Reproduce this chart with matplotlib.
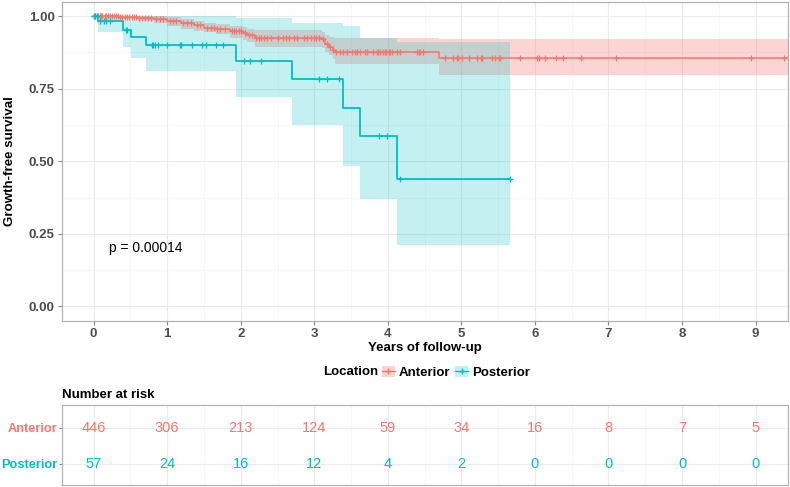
import numpy as np
import matplotlib.pyplot as plt
from matplotlib.patches import Patch
from matplotlib.lines import Line2D

plt.rcParams['font.family'] = ['Liberation Sans', 'DejaVu Sans']

RED = '#F8766D'
TEAL = '#00BFC4'
GRID = '#EBEBEB'
BORDER = '#B3B3B3'
TICKTXT = '#4D4D4D'

# Anterior: step times, survival and confidence band
ant_time = [0, 0.35, 0.60, 0.82, 1.00, 1.19, 1.37, 1.50, 1.66, 1.85, 2.03, 2.08,
            2.19, 3.10, 3.14, 3.20, 3.25, 3.28, 4.70, 9.50]
ant_surv = [1.0, 0.998, 0.995, 0.991, 0.984, 0.976, 0.969, 0.961, 0.956, 0.950,
            0.943, 0.934, 0.924, 0.920, 0.905, 0.895, 0.885, 0.876, 0.856, 0.856]
ant_upper = [1.0, 1.0, 1.0, 1.0, 0.997, 0.990, 0.985, 0.978, 0.972, 0.968, 0.963,
             0.957, 0.951, 0.946, 0.935, 0.930, 0.927, 0.926, 0.920, 0.920]
ant_lower = [1.0, 0.990, 0.985, 0.978, 0.968, 0.957, 0.950, 0.945, 0.940, 0.925,
             0.918, 0.910, 0.894, 0.890, 0.876, 0.865, 0.852, 0.834, 0.796, 0.796]
ant_censor = [0.0, 0.02, 0.04, 0.06, 0.08, 0.10, 0.12, 0.15, 0.17, 0.20, 0.22,
              0.25, 0.28, 0.30, 0.33, 0.36, 0.39, 0.42, 0.45, 0.48, 0.52, 0.55,
              0.58, 0.62, 0.66, 0.70, 0.74, 0.78, 0.85, 0.90, 0.95, 1.04, 1.08,
              1.12, 1.22, 1.27, 1.32, 1.41, 1.45, 1.54, 1.59, 1.63, 1.68, 1.72,
              1.79, 1.88, 1.91, 1.94, 1.97, 2.00, 2.06, 2.11, 2.15, 2.21, 2.25,
              2.28, 2.32, 2.36, 2.41, 2.50, 2.57, 2.62, 2.66, 2.73, 2.77, 2.86,
              2.90, 2.95, 2.99, 3.03, 3.06, 3.12, 3.17, 3.22, 3.26, 3.30, 3.35,
              3.39, 3.44, 3.51, 3.55, 3.58, 3.62, 3.69, 3.71, 3.80, 3.85, 3.87,
              3.89, 3.94, 3.96, 3.98, 4.01, 4.03, 4.05, 4.12, 4.17, 4.39, 4.42,
              4.44, 4.48, 4.78, 4.89, 4.94, 4.96, 5.01, 5.10, 5.21, 5.26, 5.28,
              5.42, 5.46, 5.51, 5.53, 5.80, 6.03, 6.05, 6.14, 6.28, 6.38, 6.62,
              7.10, 8.94, 9.38]

# Posterior
post_time = [0, 0.056, 0.40, 0.506, 0.706, 1.93, 2.70, 3.385, 3.625, 4.12, 5.655]
post_surv = [1.0, 0.982, 0.954, 0.930, 0.902, 0.847, 0.782, 0.684, 0.587, 0.440, 0.440]
post_upper = [1.0, 1.0, 1.0, 1.0, 1.0, 0.994, 0.977, 0.967, 0.925, 0.911, 0.911]
post_lower = [1.0, 0.946, 0.895, 0.855, 0.810, 0.722, 0.624, 0.485, 0.370, 0.212, 0.212]
post_censor = [0.0, 0.02, 0.04, 0.09, 0.14, 0.17, 0.22, 0.44, 0.46, 0.79, 0.81,
               0.84, 0.88, 1.00, 1.17, 1.19, 1.34, 1.47, 1.53, 1.66, 1.76, 2.05,
               2.13, 2.28, 3.06, 3.17, 3.34, 3.88, 3.99, 4.17, 5.655]

# number at risk
risk_times = [0, 1, 2, 3, 4, 5, 6, 7, 8, 9]
risk_ant = [446, 306, 213, 124, 59, 34, 16, 8, 7, 5]
risk_post = [57, 24, 16, 12, 4, 2, 0, 0, 0, 0]
groups = ['Anterior', 'Posterior']


def surv_at(times, surv, t):
    idx = np.searchsorted(times, t, side='right') - 1
    return np.asarray(surv)[idx]


def style_panel(a):
    for s in a.spines.values():
        s.set_color(BORDER)
        s.set_linewidth(0.9)
    a.set_axisbelow(True)
    a.grid(which='major', color=GRID, lw=0.8)
    a.grid(which='minor', color='#F4F4F4', lw=0.5)
    a.tick_params(which='major', length=3, color='#888888', width=0.8,
                  labelcolor=TICKTXT, labelsize=9.5, pad=2)
    a.tick_params(which='minor', length=0)


fig = plt.figure(figsize=(7.9, 4.87), dpi=100)
ax = fig.add_axes([0.0781, 0.3409, 0.9197, 0.6556])
tab = fig.add_axes([0.0781, 0.0041, 0.9197, 0.1637])

# bands
ax.fill_between(ant_time, ant_lower, ant_upper, step='post', color=RED,
                alpha=0.3, lw=0)
ax.fill_between(post_time, post_lower, post_upper, step='post', color=TEAL,
                alpha=0.23, lw=0)
# curves
ax.step(ant_time, ant_surv, where='post', color=RED, lw=1.1)
ax.step(post_time, post_surv, where='post', color=TEAL, lw=1.3)
ax.plot(ant_censor, surv_at(ant_time, ant_surv, ant_censor), ls='none',
        marker='+', ms=5, mew=0.9, color=RED)
ax.plot(post_censor, surv_at(post_time, post_surv, post_censor), ls='none',
        marker='+', ms=5, mew=0.9, color=TEAL)

ax.text(0.21, 0.2, 'p = 0.00014', ha='left', va='center', fontsize=10)

ax.set_xlim(-0.434, 9.444)
ax.set_ylim(-0.05, 1.05)
ax.set_xticks(range(10))
ax.set_xticks(np.arange(0.5, 9.5, 1), minor=True)
ax.set_yticks([0, 0.25, 0.5, 0.75, 1.0])
ax.set_yticklabels(['0.00', '0.25', '0.50', '0.75', '1.00'])
ax.set_yticks(np.arange(0.125, 1.0, 0.25), minor=True)
style_panel(ax)
for lab in ax.get_xticklabels() + ax.get_yticklabels():
    lab.set_fontweight('bold')

fig.text(10 / 790, 1 - 161 / 487, 'Growth-free survival', rotation=90,
         ha='center', va='center', fontsize=9.6, fontweight='bold')
fig.text(425 / 790, 1 - 347.7 / 487, 'Years of follow-up', ha='center',
         va='center', fontsize=9.5, fontweight='bold')

# legend
fig.text(378.3 / 790, 1 - 372.3 / 487, 'Location', ha='right', va='center',
         fontsize=9.5, fontweight='bold')
handles = [(Patch(facecolor=RED, alpha=0.3, lw=0),
            Line2D([], [], color=RED, marker='+', lw=1, ms=5)),
           (Patch(facecolor=TEAL, alpha=0.23, lw=0),
            Line2D([], [], color=TEAL, marker='+', lw=1, ms=5))]
leg = fig.legend(handles, groups, loc='center left',
                 bbox_to_anchor=(382 / 790, 1 - 372.3 / 487), ncol=2,
                 frameon=False, handlelength=0.95, handleheight=0.95,
                 handletextpad=0.3, columnspacing=0.4, borderpad=0,
                 borderaxespad=0, numpoints=1, prop={'size': 9.5, 'weight': 'bold'})

# risk table
fig.text(61.7 / 790, 1 - 395 / 487, 'Number at risk', ha='left', va='center',
         fontsize=9.5, fontweight='bold')
for t, n in zip(risk_times, risk_ant):
    tab.text(t, 2, str(n), ha='center', va='center', color=RED, fontsize=10.5)
for t, n in zip(risk_times, risk_post):
    tab.text(t, 1, str(n), ha='center', va='center', color=TEAL, fontsize=10.5)
tab.set_xlim(-0.434, 9.444)
tab.set_ylim(0.42, 2.62)
tab.set_xticks(range(10))
tab.set_xticks(np.arange(0.5, 9.5, 1), minor=True)
tab.set_yticks([2, 1])
tab.set_yticklabels(groups)
style_panel(tab)
tab.tick_params(axis='x', which='both', length=0, labelbottom=False)
tab.tick_params(axis='y', which='major', length=2, pad=1, labelsize=9.2)
for lab, c in zip(tab.get_yticklabels(), [RED, TEAL]):
    lab.set_color(c)
    lab.set_fontweight('bold')

fig.savefig('out.png', dpi=100)
